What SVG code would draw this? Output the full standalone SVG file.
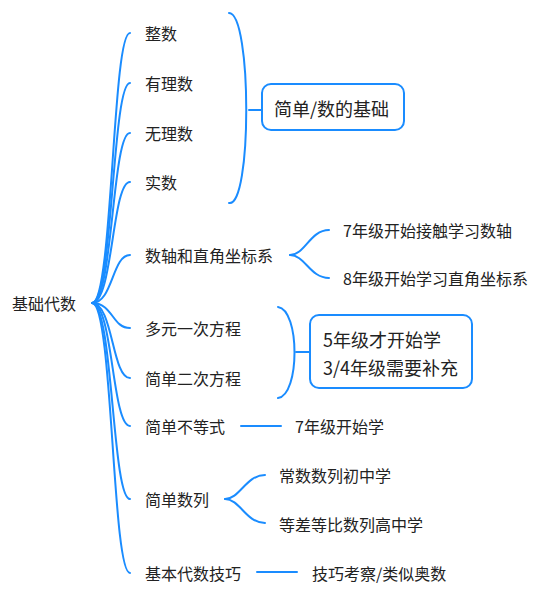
<svg xmlns="http://www.w3.org/2000/svg" width="540" height="592" viewBox="0 0 540 592">
<style>
text{font-family:"Noto Sans CJK SC","Microsoft YaHei","Liberation Sans",sans-serif;fill:#222;dominant-baseline:central}
.t{font-size:16px}
.b{font-size:18px}
.c{fill:none;stroke:#1a8cff;stroke-width:2;stroke-linecap:round}
.box{fill:#fff;stroke:#1a8cff;stroke-width:2}
</style>
<rect width="540" height="592" fill="#fff"/>
<g id="connectors">
<path class="c" d="M92,303 C113,303 112,33 130,33"/>
<path class="c" d="M92,303 C113,303 112,83 130,83"/>
<path class="c" d="M92,303 C113,303 112,133 130,133"/>
<path class="c" d="M92,303 C113,303 112,182 130,182"/>
<path class="c" d="M92,303 C113,303 112,255 130,255"/>
<path class="c" d="M92,303 C113,303 112,328 130,328"/>
<path class="c" d="M92,303 C113,303 112,378 130,378"/>
<path class="c" d="M92,303 C113,303 112,426 130,426"/>
<path class="c" d="M92,303 C113,303 112,499 130,499"/>
<path class="c" d="M92,303 C113,303 112,573 130,573"/>
<path class="c" d="M229,13 C252,13 252,208 229,203"/>
<path class="c" d="M249,110 L262,110"/>
<path class="c" d="M278,307 C300,310 300,395 278,398"/>
<path class="c" d="M296,352 L310,352"/>
<path class="c" d="M290,255 C305,255 310,230 329,230"/>
<path class="c" d="M290,255 C305,255 310,278 329,278"/>
<path class="c" d="M241,426 L281,426"/>
<path class="c" d="M225,499 C240,499 246,475 265,475"/>
<path class="c" d="M225,499 C240,499 246,523 265,523"/>
<path class="c" d="M257,572 L297,572"/>
</g>
<g id="root"><text class="t" x="12" y="303">基础代数</text></g>
<g id="n1"><text class="t" x="145" y="33">整数</text></g>
<g id="n2"><text class="t" x="145" y="83">有理数</text></g>
<g id="n3"><text class="t" x="145" y="133">无理数</text></g>
<g id="n4"><text class="t" x="145" y="182">实数</text></g>
<g id="n5"><text class="t" x="145" y="255">数轴和直角坐标系</text></g>
<g id="n6"><text class="t" x="145" y="328">多元一次方程</text></g>
<g id="n7"><text class="t" x="145" y="378">简单二次方程</text></g>
<g id="n8"><text class="t" x="145" y="426">简单不等式</text></g>
<g id="n9"><text class="t" x="145" y="499">简单数列</text></g>
<g id="n10"><text class="t" x="145" y="573">基本代数技巧</text></g>
<g id="summary1"><rect class="box" x="262" y="84" width="142" height="46" rx="9"/><text class="b" x="274" y="108">简单/数的基础</text></g>
<g id="summary2"><rect class="box" x="310" y="315" width="162" height="73" rx="9"/><text class="b" x="323" y="339">5年级才开始学</text><text class="b" x="323" y="367">3/4年级需要补充</text></g>
<g id="n5a"><text class="t" x="343" y="230">7年级开始接触学习数轴</text></g>
<g id="n5b"><text class="t" x="343" y="278">8年级开始学习直角坐标系</text></g>
<g id="n8a"><text class="t" x="295" y="426">7年级开始学</text></g>
<g id="n9a"><text class="t" x="279" y="475">常数数列初中学</text></g>
<g id="n9b"><text class="t" x="279" y="524">等差等比数列高中学</text></g>
<g id="n10a"><text class="t" x="312" y="573">技巧考察/类似奥数</text></g>
</svg>
